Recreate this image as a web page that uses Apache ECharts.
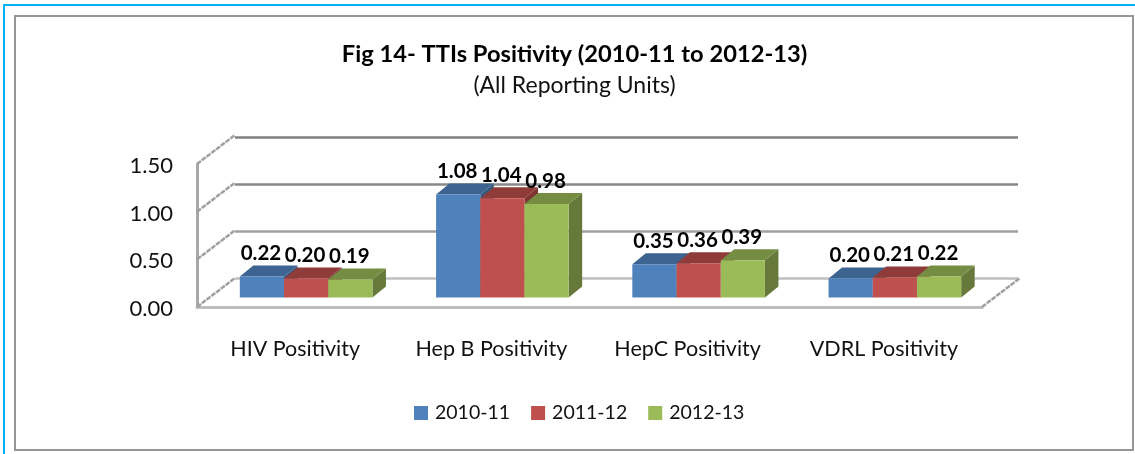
<!DOCTYPE html>
<html><head><meta charset="utf-8">
<style>html,body{margin:0;padding:0;background:#fff}#c{width:1135px;height:454px}</style>
<script src="https://cdn.jsdelivr.net/npm/echarts@6/dist/echarts.min.js"></script>
</head><body><div id="c"></div>
<script>
const categories = ['HIV Positivity','Hep B Positivity','HepC Positivity','VDRL Positivity'];
const s2010 = [0.22,1.08,0.35,0.20];
const s2011 = [0.20,1.04,0.36,0.21];
const s2012 = [0.19,0.98,0.39,0.22];
const yTicks = [0,0.5,1,1.5];
const seriesNames = ['2010-11','2011-12','2012-13'];
const FONT = 'Lato, "Open Sans", sans-serif';
const palette = [
  {front:'#4F81BD', top:'#3D6391', side:'#35587F'},
  {front:'#C0504D', top:'#8F3B39', side:'#7F3432'},
  {front:'#9BBB59', top:'#748D43', side:'#66793A'}
];
const BAR_W = 44.2, SHIFT_X = 11, SHIFT_Y = -9.5, DX = 13.5, DY = -11;
const WALL_DX = 38, WALL_DY = -29;

function barRender(si){
  return function(params, api){
    const i = api.value(0), v = api.value(1);
    const base = api.coord([i,0]), top = api.coord([i,v]);
    const x0 = base[0] + SHIFT_X + (si-1.5)*BAR_W, x1 = x0 + BAR_W;
    const yb = base[1] + SHIFT_Y, yt = top[1] + SHIFT_Y;
    const c = palette[si];
    return {type:'group', children:[
      {type:'polygon', shape:{points:[[x1,yb],[x1+DX,yb+DY],[x1+DX,yt+DY],[x1,yt]]}, style:{fill:c.side}},
      {type:'polygon', shape:{points:[[x0,yt],[x0+DX,yt+DY],[x1+DX,yt+DY],[x1,yt]]}, style:{fill:c.top}},
      {type:'rect', shape:{x:x0,y:yt,width:BAR_W,height:yb-yt}, style:{fill:c.front}},
      {type:'text', z2:50, style:{x:(x0+x1)/2-1, y:yt-23, text:v.toFixed(2), align:'center', verticalAlign:'middle',
        font:'bold 20.5px '+FONT, fill:'#000'}}
    ]};
  };
}
function wallRender(params, api){
  const v = api.value(0);
  const p = api.coord([0,v]);
  const x = api.coord([0,0])[0] - api.size([1,0])[0]/2;
  return {type:'line', shape:{x1:x,y1:p[1],x2:x+WALL_DX,y2:p[1]+WALL_DY}, style:{stroke:'#A0A0A0',lineWidth:2.5,lineDash:[5,1]}};
}
function floorRender(params, api){
  const p = api.coord([3,0]);
  const x = p[0] + api.size([1,0])[0]/2;
  return {type:'line', shape:{x1:x,y1:p[1],x2:x+WALL_DX,y2:p[1]+WALL_DY}, style:{stroke:'#A0A0A0',lineWidth:2.5,lineDash:[5,1]}};
}
const chart = echarts.init(document.getElementById('c'), null, {renderer:'canvas'});
chart.setOption({
  animation:false,
  backgroundColor:'#fff',
  graphic:[
    {type:'polyline', silent:true, shape:{points:[[4,454],[4,5],[1135,5]]}, style:{stroke:'#00B0F0',fill:null,lineWidth:2}},
    {type:'rect', silent:true, shape:{x:15,y:16,width:1118,height:434}, style:{stroke:'#969696',fill:null,lineWidth:2}},
    {type:'text', silent:true, style:{x:574.5,y:54,text:'Fig 14- TTIs Positivity (2010-11 to 2012-13)',align:'center',verticalAlign:'middle',font:'bold 23.7px '+FONT,fill:'#000'}},
    {type:'text', silent:true, style:{x:574.5,y:86,text:'(All Reporting Units)',align:'center',verticalAlign:'middle',font:'23px '+FONT,fill:'#111'}}
  ],
  legend:{data:seriesNames, left:409, top:398, icon:'rect', itemWidth:14, itemHeight:14, itemGap:21,
    textStyle:{fontFamily:FONT,fontSize:19.5,color:'#111',padding:[0,0,0,2]}},
  grid:[
    {left:197,top:164,width:785,height:143},
    {left:235,top:137,width:783,height:141}
  ],
  xAxis:[
    {type:'category',gridIndex:0,data:categories,
     axisLine:{show:true,lineStyle:{color:'#BDBDBD',width:3}},axisTick:{show:false},
     axisLabel:{interval:0,hideOverlap:false,fontFamily:FONT,fontSize:21.5,color:'#111',margin:31}},
    {type:'category',gridIndex:1,data:categories,show:false}
  ],
  yAxis:[
    {type:'value',gridIndex:0,min:0,max:1.5,interval:0.5,
     axisLine:{show:true,lineStyle:{color:'#A8A8A8',width:3}},axisTick:{show:false},splitLine:{show:false},
     axisLabel:{fontFamily:FONT,fontSize:22,color:'#111',margin:24,verticalAlign:'top',lineHeight:4,formatter:v=>v.toFixed(2)}},
    {type:'value',gridIndex:1,min:0,max:1.5,interval:0.5,
     axisLine:{show:false},axisTick:{show:false},axisLabel:{show:false},
     splitLine:{show:true,lineStyle:{width:2.5,color:['#BFBFBF','#A0A0A0','#888888','#808080']}}}
  ],
  series:[
    {type:'custom',name:'wall',silent:true,xAxisIndex:0,yAxisIndex:0,z:1,renderItem:wallRender,
     data:yTicks.map(v=>[v]),encode:{y:0}},
    {type:'custom',name:'floor',silent:true,xAxisIndex:0,yAxisIndex:0,z:1,renderItem:floorRender,data:[[3,0]]},
    ...[s2010,s2011,s2012].map((arr,si)=>({
      type:'custom',name:seriesNames[si],xAxisIndex:0,yAxisIndex:0,z:3+si,
      itemStyle:{color:palette[si].front},
      renderItem:barRender(si),
      data:arr.map((v,i)=>[i,v]),encode:{x:0,y:1}
    }))
  ]
});
</script></body></html>
